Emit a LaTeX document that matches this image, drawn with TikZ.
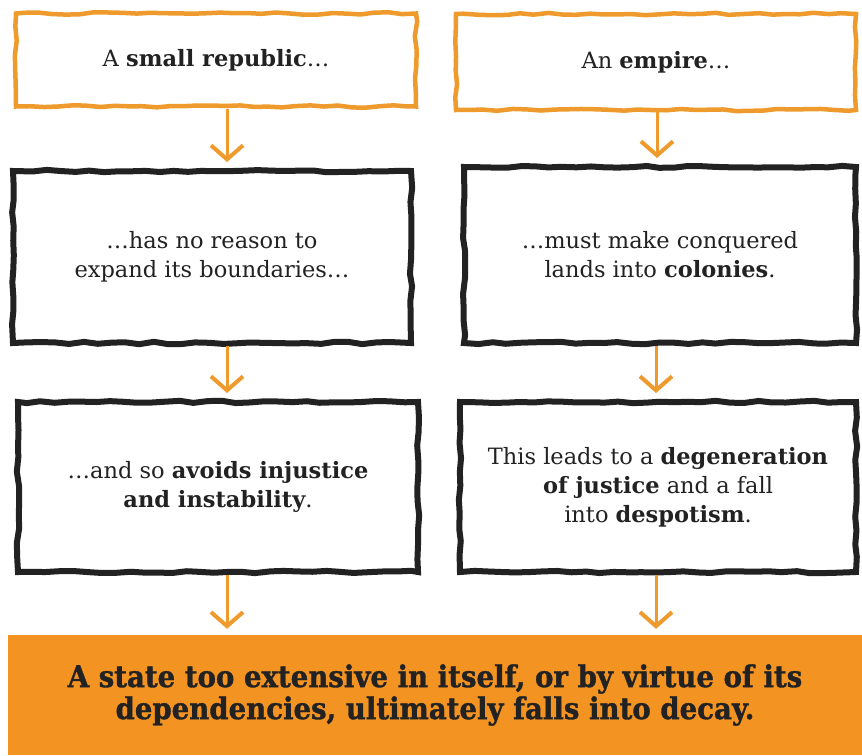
\documentclass[tikz,border=0pt]{standalone}
\usepackage{fontspec}
\setmainfont{DejaVu Serif}
\newfontfamily\capfont[FakeStretch=0.92, FakeBold=1.2]{DejaVu Serif}
\usepackage{tikz}
\usetikzlibrary{arrows.meta,positioning,decorations.pathmorphing}
\definecolor{tangerine}{HTML}{EF9A2C}
\definecolor{pumpkin}{HTML}{F39322}
\definecolor{ink}{HTML}{222222}
\tikzset{
  sketch/.style={decorate, decoration={random steps, segment length=14pt, amplitude=1.2pt}},
  startbox/.style={rectangle, sketch, draw=tangerine, line width=4.5pt, fill=white,
                   align=center, inner sep=4pt, font=\fontsize{22.5}{29}\selectfont, text=ink},
  stepbox/.style={rectangle, sketch, draw=ink, line width=6pt, fill=white,
                  align=center, inner sep=4pt, font=\fontsize{22.5}{29}\selectfont, text=ink},
  endbox/.style={rectangle, draw=none, fill=pumpkin, align=center, inner sep=0pt,
                 font=\capfont\bfseries\fontsize{30}{32}\selectfont, text=ink},
  flow/.style={-{Straight Barb[length=14pt, width=32pt, line width=4pt]}, draw=tangerine,
               line width=3pt, shorten >=6pt}
}
\begin{document}
\pgfmathsetseed{7}
\begin{tikzpicture}[x=1pt, y=-1pt]
  \useasboundingbox[fill=white] (0,0) rectangle (862,755);
  % the two starting points
  \node[startbox, minimum width=400pt, minimum height=93pt] (rep) at (216,60) {A \textbf{small republic}\ldots};
  \node[startbox, minimum width=400pt, minimum height=96pt] (emp) at (656,62) {An \textbf{empire}\ldots};
  % second row
  \node[stepbox, minimum width=398pt, minimum height=172pt] (bound) at (212,257) {\ldots has no reason to\\expand its boundaries\ldots};
  \node[stepbox, minimum width=392pt, minimum height=176pt] (colony) at (660,255) {\ldots must make conquered\\lands into \textbf{colonies}.};
  % third row
  \node[stepbox, minimum width=400pt, minimum height=170pt] (avoid) at (218,487) {\ldots and so \textbf{avoids injustice}\\\textbf{and instability}.};
  \node[stepbox, minimum width=396pt, minimum height=170pt] (decay) at (658,487) {This leads to a \textbf{degeneration}\\\textbf{of justice} and a fall\\into \textbf{despotism}.};
  % conclusion
  \node[endbox, minimum width=854pt, minimum height=120pt] (fall) at (435,695) {A state too extensive in itself, or by virtue of its\\dependencies, ultimately falls into decay.};
  \draw[flow] ([xshift=11pt]rep.south) -- ([xshift=11pt]rep.south |- bound.north);
  \draw[flow] ([xshift=1pt]emp.south) -- ([xshift=1pt]emp.south |- colony.north);
  \draw[flow] ([xshift=15pt]bound.south) -- ([xshift=15pt]bound.south |- avoid.north);
  \draw[flow] ([xshift=-4pt]colony.south) -- ([xshift=-4pt]colony.south |- decay.north);
  \draw[flow] ([xshift=9pt]avoid.south) -- ([xshift=9pt]avoid.south |- fall.north);
  \draw[flow] ([xshift=-2pt]decay.south) -- ([xshift=-2pt]decay.south |- fall.north);
\end{tikzpicture}
\end{document}
